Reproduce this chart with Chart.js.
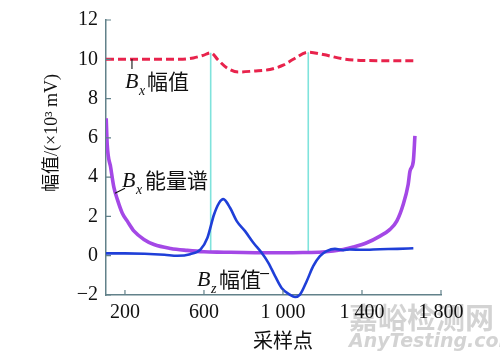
<!DOCTYPE html>
<html><head><meta charset="utf-8">
<script src="https://cdn.jsdelivr.net/npm/chart.js@4/dist/chart.umd.min.js"></script>
<style>html,body{margin:0;padding:0;background:#fff;}canvas{display:block;}</style>
</head><body>
<canvas id="c" width="500" height="351"></canvas>
<script>
// ---- data ----
const xTicks = [200, 600, 1000, 1400, 1800];
const yTicks = [-2, 0, 2, 4, 6, 8, 10, 12];

// Bx amplitude (red dashed)
const bxAmpX = [104, 200, 300, 400, 478, 546, 596, 634, 672, 715, 774, 850, 934, 1001, 1052, 1128, 1204, 1305, 1407, 1525, 1660];
const bxAmpY = [10.0, 10.0, 10.0, 10.0, 10.0, 10.07, 10.2, 10.33, 9.96, 9.57, 9.35, 9.4, 9.48, 9.7, 10.0, 10.36, 10.24, 10.02, 9.94, 9.93, 9.92];

// Bx energy spectrum (purple)
const bxEnX = [105, 110, 128, 144, 161, 186, 212, 246, 296, 347, 431, 515, 600, 700, 800, 900, 1000, 1100, 1200, 1255, 1305, 1356, 1424, 1491, 1542, 1576, 1609, 1634, 1643, 1660, 1668];
const bxEnY = [7.0, 5.68, 4.48, 3.48, 2.88, 2.18, 1.76, 1.25, 0.83, 0.57, 0.37, 0.27, 0.2, 0.18, 0.16, 0.15, 0.15, 0.16, 0.19, 0.24, 0.32, 0.44, 0.66, 1.0, 1.34, 1.76, 2.62, 3.64, 4.31, 4.82, 6.1];

// Bz amplitude (blue)
const bzAmpX = [104, 200, 300, 400, 465, 530, 583, 617, 651, 676, 698, 732, 766, 808, 850, 892, 926, 960, 993, 1035, 1061, 1086, 1120, 1153, 1187, 1221, 1263, 1305, 1339, 1400, 1491, 1580, 1660];
const bzAmpY = [0.12, 0.12, 0.1, 0.05, 0.0, 0.08, 0.32, 0.9, 2.1, 2.68, 2.88, 2.44, 1.76, 1.25, 0.66, 0.15, -0.36, -1.04, -1.64, -1.98, -2.1, -1.98, -1.3, -0.53, -0.02, 0.23, 0.35, 0.28, 0.32, 0.3, 0.33, 0.35, 0.38];

// vertical marker lines (cyan)
const markerX = [634, 1128];
const markerTop = [10.33, 10.36];
const markerBottom = [0.17, 0.17];

// ---- build chart ----
const pts = (xs, ys) => xs.map((x, i) => ({x: x, y: ys[i]}));
const axisColor = '#62818a';
const serif = '"Liberation Serif", "DejaVu Serif", serif';
const cjk = '"Noto Sans CJK SC", sans-serif';

const datasets = [
  {data: pts(bxAmpX, bxAmpY), borderColor: '#e8234c', borderWidth: 3, borderDash: [8, 4], cubicInterpolationMode: 'monotone'},
  {data: pts(bzAmpX, bzAmpY), borderColor: '#1f3fd8', borderWidth: 2.6, cubicInterpolationMode: 'monotone', clip: false},
  {data: pts(bxEnX, bxEnY), borderColor: '#a448e6', borderWidth: 3.6, cubicInterpolationMode: 'monotone'}
];
markerX.forEach((mx, i) => {
  datasets.push({data: [{x: mx, y: markerTop[i]}, {x: mx, y: markerBottom[i]}], borderColor: '#7fe3dc', borderWidth: 1.6});
});
datasets.forEach(d => { d.showLine = true; d.pointRadius = 0; d.fill = false; });

const fmt = v => (v < 0 ? '\u2212' + Math.abs(v) : String(v).replace(/\B(?=(\d{3})+(?!\d))/g, ' '));

const notes = [
  {x: 200, y: 8.54, sub: 'x', cn: '幅值', cnDx: 22, leader: [[7, -29], [7, -19]]},
  {x: 185, y: 3.48, sub: 'x', cn: '能量谱', cnDx: 23, leader: [[-7, 6], [3, 1]]},
  {x: 565, y: -1.52, sub: 'z', cn: '幅值', cnDx: 22, leader: [[63, -12], [72, -12]]}
];

const deco = {
  id: 'deco',
  beforeDraw(chart) {
    const ctx = chart.ctx;
    ctx.save();
    ctx.fillStyle = 'rgba(175,175,175,0.55)';
    ctx.font = 'bold 29px ' + cjk;
    ctx.textBaseline = 'alphabetic';
    ctx.textAlign = 'left';
    ctx.fillText('嘉峪检测网', 349, 329);
    ctx.font = 'italic bold 19px "DejaVu Sans", sans-serif';
    ctx.fillText('AnyTesting.com', 349, 347);
    ctx.restore();
  },
  afterDraw(chart) {
    const ctx = chart.ctx, a = chart.chartArea;
    const xs = chart.scales.x, ys = chart.scales.y;
    ctx.save();
    // inward tick marks
    ctx.strokeStyle = axisColor; ctx.lineWidth = 1.2;
    ctx.beginPath();
    yTicks.forEach(v => { const p = ys.getPixelForValue(v); ctx.moveTo(a.left, p); ctx.lineTo(a.left + 5, p); });
    xTicks.forEach(v => { const p = xs.getPixelForValue(v); ctx.moveTo(p, a.bottom); ctx.lineTo(p, a.bottom - 5); });
    ctx.stroke();
    // axis titles
    ctx.fillStyle = '#111';
    ctx.textAlign = 'center'; ctx.textBaseline = 'middle';
    ctx.font = '20px ' + cjk;
    ctx.fillText('采样点', 283, 340);
    ctx.save();
    ctx.translate(52, 133); ctx.rotate(-Math.PI / 2);
    ctx.font = '18px ' + serif + ', ' + cjk;
    ctx.fillText('幅值/(×10³ mV)', 0, 0);
    ctx.restore();
    // annotations
    notes.forEach(n => {
      const px = xs.getPixelForValue(n.x), py = ys.getPixelForValue(n.y);
      ctx.strokeStyle = '#111'; ctx.lineWidth = 1.1;
      ctx.beginPath();
      ctx.moveTo(px + n.leader[0][0], py + n.leader[0][1]);
      ctx.lineTo(px + n.leader[1][0], py + n.leader[1][1]);
      ctx.stroke();
      ctx.textAlign = 'left'; ctx.textBaseline = 'alphabetic';
      ctx.font = 'italic 22px ' + serif;
      ctx.fillText('B', px, py);
      ctx.font = 'italic 14px ' + serif;
      ctx.fillText(n.sub, px + 14, py + 7);
      ctx.font = '21px ' + cjk;
      ctx.fillText(n.cn, px + n.cnDx, py + 1);
    });
    ctx.restore();
  }
};

new Chart(document.getElementById('c'), {
  type: 'scatter',
  data: {datasets: datasets},
  options: {
    responsive: false,
    devicePixelRatio: 1,
    animation: false,
    events: [],
    layout: {padding: {left: 0, top: 20, right: 59, bottom: 0}},
    plugins: {legend: {display: false}, tooltip: {enabled: false}},
    scales: {
      x: {
        type: 'linear', min: 104, max: 1800,
        afterBuildTicks: s => { s.ticks = xTicks.map(v => ({value: v})); },
        afterFit: s => { s.height = 56; },
        grid: {display: false, drawTicks: false},
        border: {display: true, color: axisColor, width: 1.5},
        ticks: {color: '#111', font: {family: serif, size: 20}, padding: 6, maxRotation: 0, autoSkip: false, callback: v => fmt(v)}
      },
      y: {
        type: 'linear', min: -2, max: 12,
        afterBuildTicks: s => { s.ticks = yTicks.map(v => ({value: v})); },
        afterFit: s => { s.width = 106; },
        grid: {display: false, drawTicks: false},
        border: {display: true, color: axisColor, width: 1.5},
        ticks: {color: '#111', font: {family: serif, size: 20}, padding: 8, autoSkip: false, callback: v => fmt(v)}
      }
    }
  },
  plugins: [deco]
});
</script>
</body></html>
